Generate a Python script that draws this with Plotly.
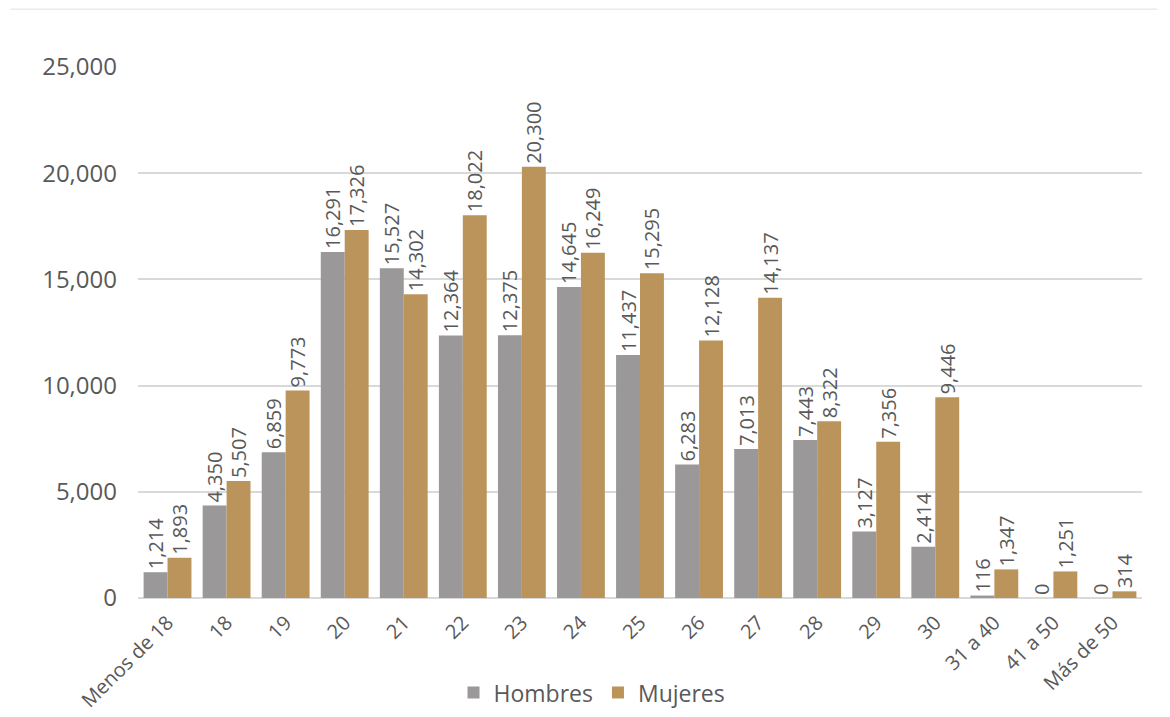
import plotly.graph_objects as go

categorias = ["Menos de 18", "18", "19", "20", "21", "22", "23", "24", "25", "26",
              "27", "28", "29", "30", "31 a 40", "41 a 50", "Más de 50"]
hombres = [1214, 4350, 6859, 16291, 15527, 12364, 12375, 14645, 11437, 6283,
           7013, 7443, 3127, 2414, 116, 0, 0]
mujeres = [1893, 5507, 9773, 17326, 14302, 18022, 20300, 16249, 15295, 12128,
           14137, 8322, 7356, 9446, 1347, 1251, 314]

FONT = "Open Sans"
TXT = "#595959"

fig = go.Figure()
for name, vals, color in [("Hombres", hombres, "#9a9899"), ("Mujeres", mujeres, "#bb945b")]:
    fig.add_trace(go.Bar(
        x=categorias, y=vals, name=name,
        marker=dict(color=color, line=dict(width=0)),
        text=[f"{v:,}" for v in vals], textposition="outside", textangle=-90,
        constraintext="none",
        textfont=dict(family=FONT, size=20, color=TXT),
        cliponaxis=False,
    ))

fig.update_layout(
    width=1170, height=717,
    margin=dict(l=138, r=28, t=67, b=119, autoexpand=False),
    paper_bgcolor="white", plot_bgcolor="white",
    barmode="group", bargap=0.19, bargroupgap=0,
    font=dict(family=FONT, color=TXT),
    legend=dict(orientation="h", x=0.506, xref="container", xanchor="center",
                y=0.034, yref="container", yanchor="middle",
                font=dict(family=FONT, size=23, color=TXT), traceorder="normal"),
    xaxis=dict(tickangle=-45, tickfont=dict(family=FONT, size=20, color=TXT),
               showline=False, ticks="", automargin=False, ticklabelstandoff=8),
    yaxis=dict(range=[0, 25000], dtick=5000, tickformat=",",
               tickfont=dict(family=FONT, size=24, color=TXT),
               gridcolor="#d9d9d9", gridwidth=2, zeroline=True, zerolinecolor="#d9d9d9",
               zerolinewidth=2, ticks="", ticklabelstandoff=20, automargin=False),
    shapes=[dict(type="line", xref="paper", yref="paper", x0=-0.127, x1=1.015,
                 y0=1.109, y1=1.109, line=dict(color="#e0e0e0", width=1))],
)

fig.write_html("out.html")
